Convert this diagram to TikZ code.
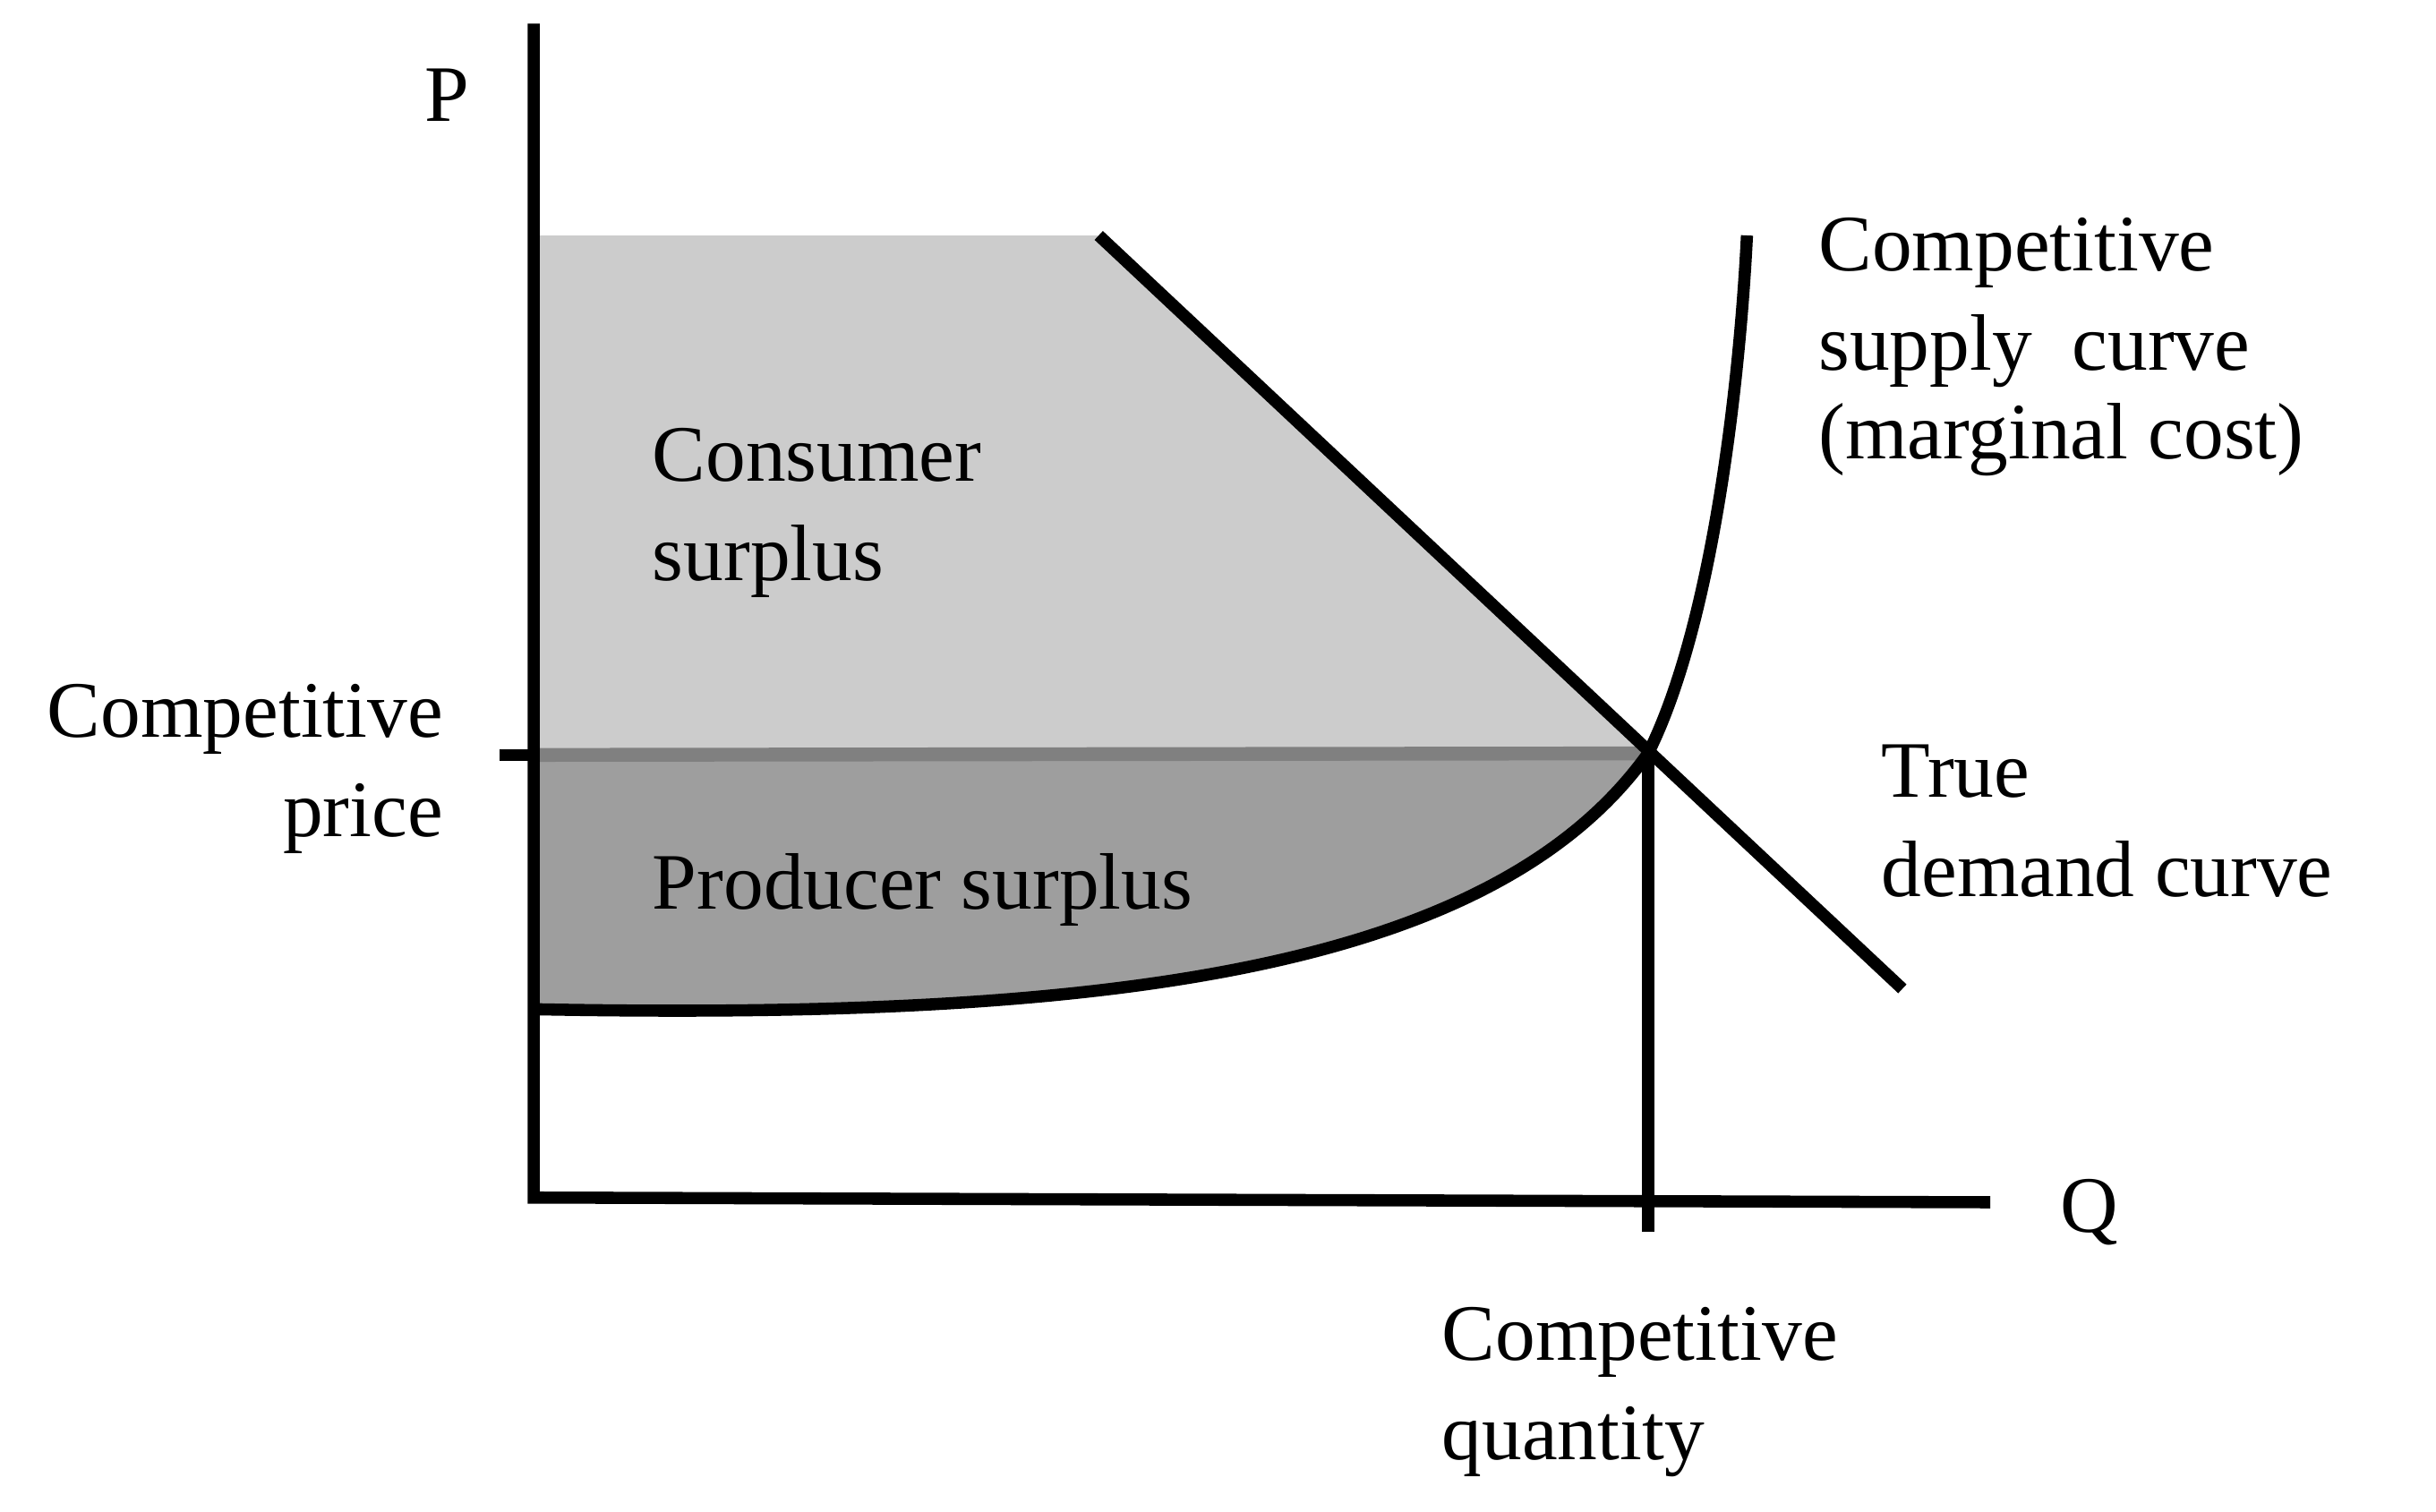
\documentclass[tikz,border=0pt]{standalone}
\usepackage{fontspec}
\setmainfont{Liberation Serif}
\begin{document}
\begin{tikzpicture}[x=0.01cm,y=-0.01cm,
  lbl/.style={font=\fontsize{14.5}{18}\selectfont,inner sep=0pt},
  thick line/.style={line width=2.2pt}]
\useasboundingbox (0,0) rectangle (1552,963);
\coordinate (E) at (1050,480);
\fill[black!20] (340,150) -- (700,150) -- (E) -- (340,480) -- cycle;
\fill[black!38] (340,480) -- (E) .. controls (950,620) and (700,650) .. (340,643) -- cycle;
\draw[line width=2.5pt,black!50] (340,481) -- (E);
\draw[thick line] (318,481) -- (340,481);
\draw[thick line] (340,15) -- (340,763) -- (1268,766);
\draw[thick line] (700,150) -- (1212,630);
\draw[thick line] (E) -- (1050,785);
\draw[thick line] (340,643) .. controls (700,650) and (950,620) .. (E) .. controls (1090,400) and (1108,250) .. (1113,150);
\node[lbl,anchor=base] (p) at (285,77) {P};
\node[lbl,anchor=base west] (q) at (1312,785) {Q};
\node[lbl,anchor=north west,align=left] (cs) at (415,272) {Consumer\\surplus};
\node[lbl,anchor=north west] (ps) at (415,543) {Producer surplus};
\node[lbl,anchor=north east,align=right] (cp) at (283,435) {Competitive\\price};
\node[lbl,anchor=north west,align=left] (sc) at (1158,138) {Competitive\\supply\ \ curve\\[-2pt](marginal cost)};
\node[lbl,anchor=north west,align=left] (dc) at (1198,474) {True\\demand curve};
\node[lbl,anchor=north west,align=left] (cq) at (918,832) {Competitive\\quantity};
\end{tikzpicture}
\end{document}
